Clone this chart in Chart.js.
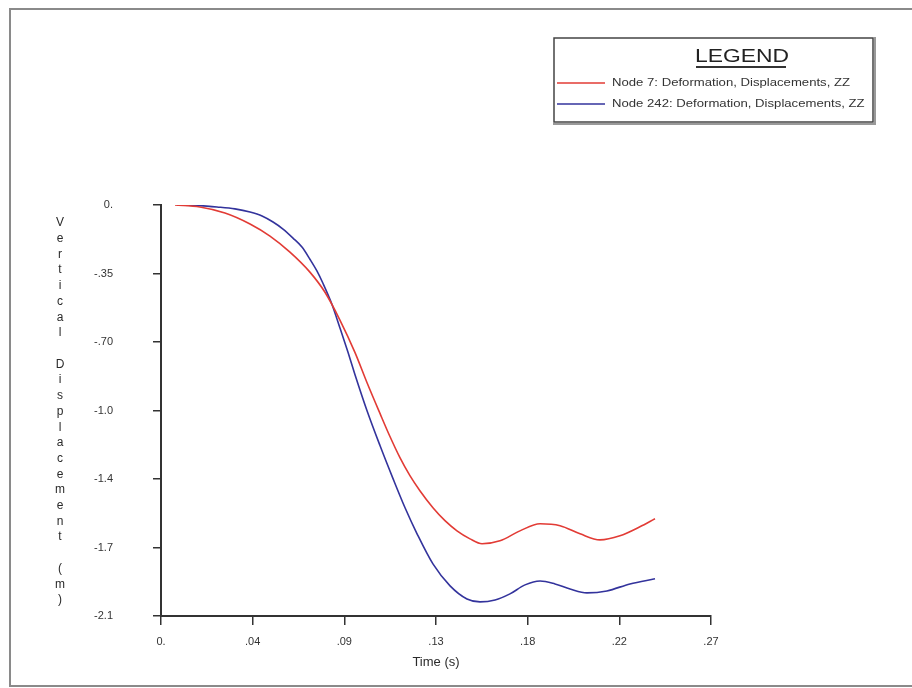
<!DOCTYPE html>
<html>
<head>
<meta charset="utf-8">
<script src="https://cdn.jsdelivr.net/npm/chart.js@4/dist/chart.umd.min.js"></script>
<style>
html,body{margin:0;padding:0;background:#fff;}
canvas{display:block;}
</style>
</head>
<body>
<canvas id="c" width="912" height="688"></canvas>
<script>
// ---- data ----
const seriesLabels = ["Node 7: Deformation, Displacements, ZZ", "Node 242: Deformation, Displacements, ZZ"];
const redT = [0.0069, 0.0191, 0.0314, 0.0437, 0.0535, 0.0633, 0.0731, 0.0805, 0.0879, 0.0952, 0.1011, 0.1075, 0.1124, 0.1173, 0.1222, 0.1271, 0.1335, 0.1394, 0.1453, 0.1517, 0.1576, 0.1664, 0.1762, 0.1861, 0.1959, 0.2057, 0.2155, 0.2253, 0.2351, 0.2425];
const redV = [0, -0.010, -0.041, -0.097, -0.159, -0.241, -0.343, -0.446, -0.589, -0.753, -0.907, -1.065, -1.183, -1.291, -1.383, -1.460, -1.547, -1.613, -1.665, -1.706, -1.731, -1.716, -1.665, -1.629, -1.639, -1.680, -1.711, -1.690, -1.644, -1.603];
const blueT = [0.0079, 0.0191, 0.0275, 0.0363, 0.0437, 0.0496, 0.0550, 0.0599, 0.0648, 0.0692, 0.0731, 0.0766, 0.0795, 0.0839, 0.0879, 0.0918, 0.0952, 0.1011, 0.1075, 0.1139, 0.1198, 0.1257, 0.1335, 0.1419, 0.1502, 0.1566, 0.1640, 0.1713, 0.1787, 0.1861, 0.1934, 0.2008, 0.2091, 0.2189, 0.2302, 0.2425];
const blueV = [0, -0.003, -0.010, -0.020, -0.036, -0.056, -0.087, -0.123, -0.169, -0.215, -0.277, -0.338, -0.400, -0.507, -0.630, -0.753, -0.866, -1.050, -1.229, -1.398, -1.547, -1.680, -1.834, -1.946, -2.013, -2.028, -2.018, -1.987, -1.941, -1.921, -1.936, -1.962, -1.982, -1.972, -1.936, -1.910];
const xTickValues = [0, 0.045, 0.09, 0.135, 0.18, 0.225, 0.27];
const xTickLabels = ["0.", ".04", ".09", ".13", ".18", ".22", ".27"];
const yTickValues = [0, -0.35, -0.70, -1.05, -1.40, -1.75, -2.10];
const yTickLabels = ["0.", "-.35", "-.70", "-1.0", "-1.4", "-1.7", "-2.1"];
const xTitle = "Time (s)";
const yTitle = "Vertical Displacement (m)";
const legendTitle = "LEGEND";

const FONT = "'Liberation Sans', Arial, Helvetica, sans-serif";

function toPts(t, v){ return t.map((x,i)=>({x:x, y:v[i]})); }

function fitText(ctx, text, x, y, targetW, align){
  const w = ctx.measureText(text).width;
  const sx = targetW / w;
  ctx.save();
  ctx.translate(x, y);
  ctx.scale(sx, 1);
  ctx.textAlign = 'left';
  let ox = 0;
  if (align === 'center') ox = -w/2;
  ctx.fillText(text, ox, 0);
  ctx.restore();
}

const decorPlugin = {
  id: 'decor',
  beforeDraw(chart){
    const ctx = chart.ctx;
    ctx.save();
    ctx.fillStyle = '#fff';
    ctx.fillRect(0,0,chart.width,chart.height);
    // outer frame
    ctx.strokeStyle = '#8a8a8a';
    ctx.lineWidth = 2;
    ctx.beginPath();
    ctx.moveTo(10, 687); ctx.lineTo(10, 9); ctx.lineTo(912, 9);
    ctx.moveTo(10, 686); ctx.lineTo(912, 686);
    ctx.stroke();
    ctx.restore();
  },
  afterDraw(chart){
    const ctx = chart.ctx;
    ctx.save();
    // vertical stacked y title
    ctx.fillStyle = '#2a2a2a';
    ctx.font = '12px ' + FONT;
    ctx.textAlign = 'center';
    ctx.textBaseline = 'middle';
    const chars = yTitle.split('');
    const y0 = 223, step = (600 - 223) / (chars.length - 1);
    chars.forEach((ch, i) => { if (ch !== ' ') ctx.fillText(ch, 60, y0 + i*step); });

    // legend box
    const bx = 554, by = 38, bw = 319, bh = 84;
    ctx.fillStyle = '#fff';
    ctx.fillRect(bx, by, bw, bh);
    ctx.strokeStyle = '#444';
    ctx.lineWidth = 1.5;
    ctx.strokeRect(bx, by, bw, bh);
    ctx.strokeStyle = '#999';
    ctx.lineWidth = 2;
    ctx.beginPath();
    ctx.moveTo(bx - 1, by + bh + 2); ctx.lineTo(bx + bw + 2, by + bh + 2); ctx.lineTo(bx + bw + 2, by - 1);
    ctx.stroke();

    ctx.fillStyle = '#222';
    ctx.font = '19px ' + FONT;
    ctx.textBaseline = 'alphabetic';
    fitText(ctx, legendTitle, 742, 62, 94, 'center');
    ctx.strokeStyle = '#333';
    ctx.lineWidth = 2;
    ctx.beginPath(); ctx.moveTo(696, 67); ctx.lineTo(786, 67); ctx.stroke();

    ctx.font = '10px ' + FONT;
    ctx.textBaseline = 'middle';
    const sw = 238 / ctx.measureText(chart.data.datasets[0].label).width;
    chart.data.datasets.forEach((ds, i) => {
      const ly = 83 + i * 21;
      ctx.strokeStyle = ds.borderColor;
      ctx.lineWidth = 1.5;
      ctx.beginPath(); ctx.moveTo(557, ly); ctx.lineTo(605, ly); ctx.stroke();
      ctx.fillStyle = '#333';
      const w = ctx.measureText(ds.label).width;
      fitText(ctx, ds.label, 612, ly, w * sw, 'left');
    });
    ctx.restore();
  }
};

new Chart(document.getElementById('c'), {
  type: 'line',
  data: {
    datasets: [
      { label: seriesLabels[0], data: toPts(redT, redV), borderColor: '#e23b35', borderWidth: 1.6,
        pointRadius: 0, fill: false, cubicInterpolationMode: 'monotone' },
      { label: seriesLabels[1], data: toPts(blueT, blueV), borderColor: '#33339c', borderWidth: 1.6,
        pointRadius: 0, fill: false, cubicInterpolationMode: 'monotone' }
    ]
  },
  options: {
    responsive: false,
    animation: false,
    devicePixelRatio: 1,
    layout: { padding: { top: 205, right: 201, left: 0, bottom: 0 } },
    plugins: { legend: { display: false }, tooltip: { enabled: false } },
    scales: {
      x: {
        type: 'linear', min: 0, max: 0.27,
        afterBuildTicks: s => { s.ticks = xTickValues.map(v => ({ value: v })); },
        afterFit: s => { s.height = 72; },
        grid: { display: true, drawOnChartArea: false, drawTicks: true, tickLength: 9, color: '#333', lineWidth: 1.5 },
        border: { display: true, color: '#333', width: 2 },
        ticks: { padding: 10, color: '#333', font: { size: 11, family: FONT }, maxRotation: 0, autoSkip: false,
          callback: (v, i) => xTickLabels[i] },
        title: { display: true, text: xTitle, color: '#2a2a2a', font: { size: 13, family: FONT }, padding: { top: 4, bottom: 18 } }
      },
      y: {
        type: 'linear', min: -2.1, max: 0,
        afterBuildTicks: s => { s.ticks = yTickValues.slice().reverse().map(v => ({ value: v })); },
        afterFit: s => { s.width = 161; },
        grid: { display: true, drawOnChartArea: false, drawTicks: true, tickLength: 8, color: '#333', lineWidth: 1.5 },
        border: { display: true, color: '#333', width: 2 },
        ticks: { padding: 40, color: '#333', font: { size: 11, family: FONT }, autoSkip: false,
          callback: (v) => { const k = yTickValues.findIndex(t => Math.abs(t - v) < 1e-6); return k >= 0 ? yTickLabels[k] : ''; } }
      }
    }
  },
  plugins: [decorPlugin]
});
</script>
</body>
</html>
